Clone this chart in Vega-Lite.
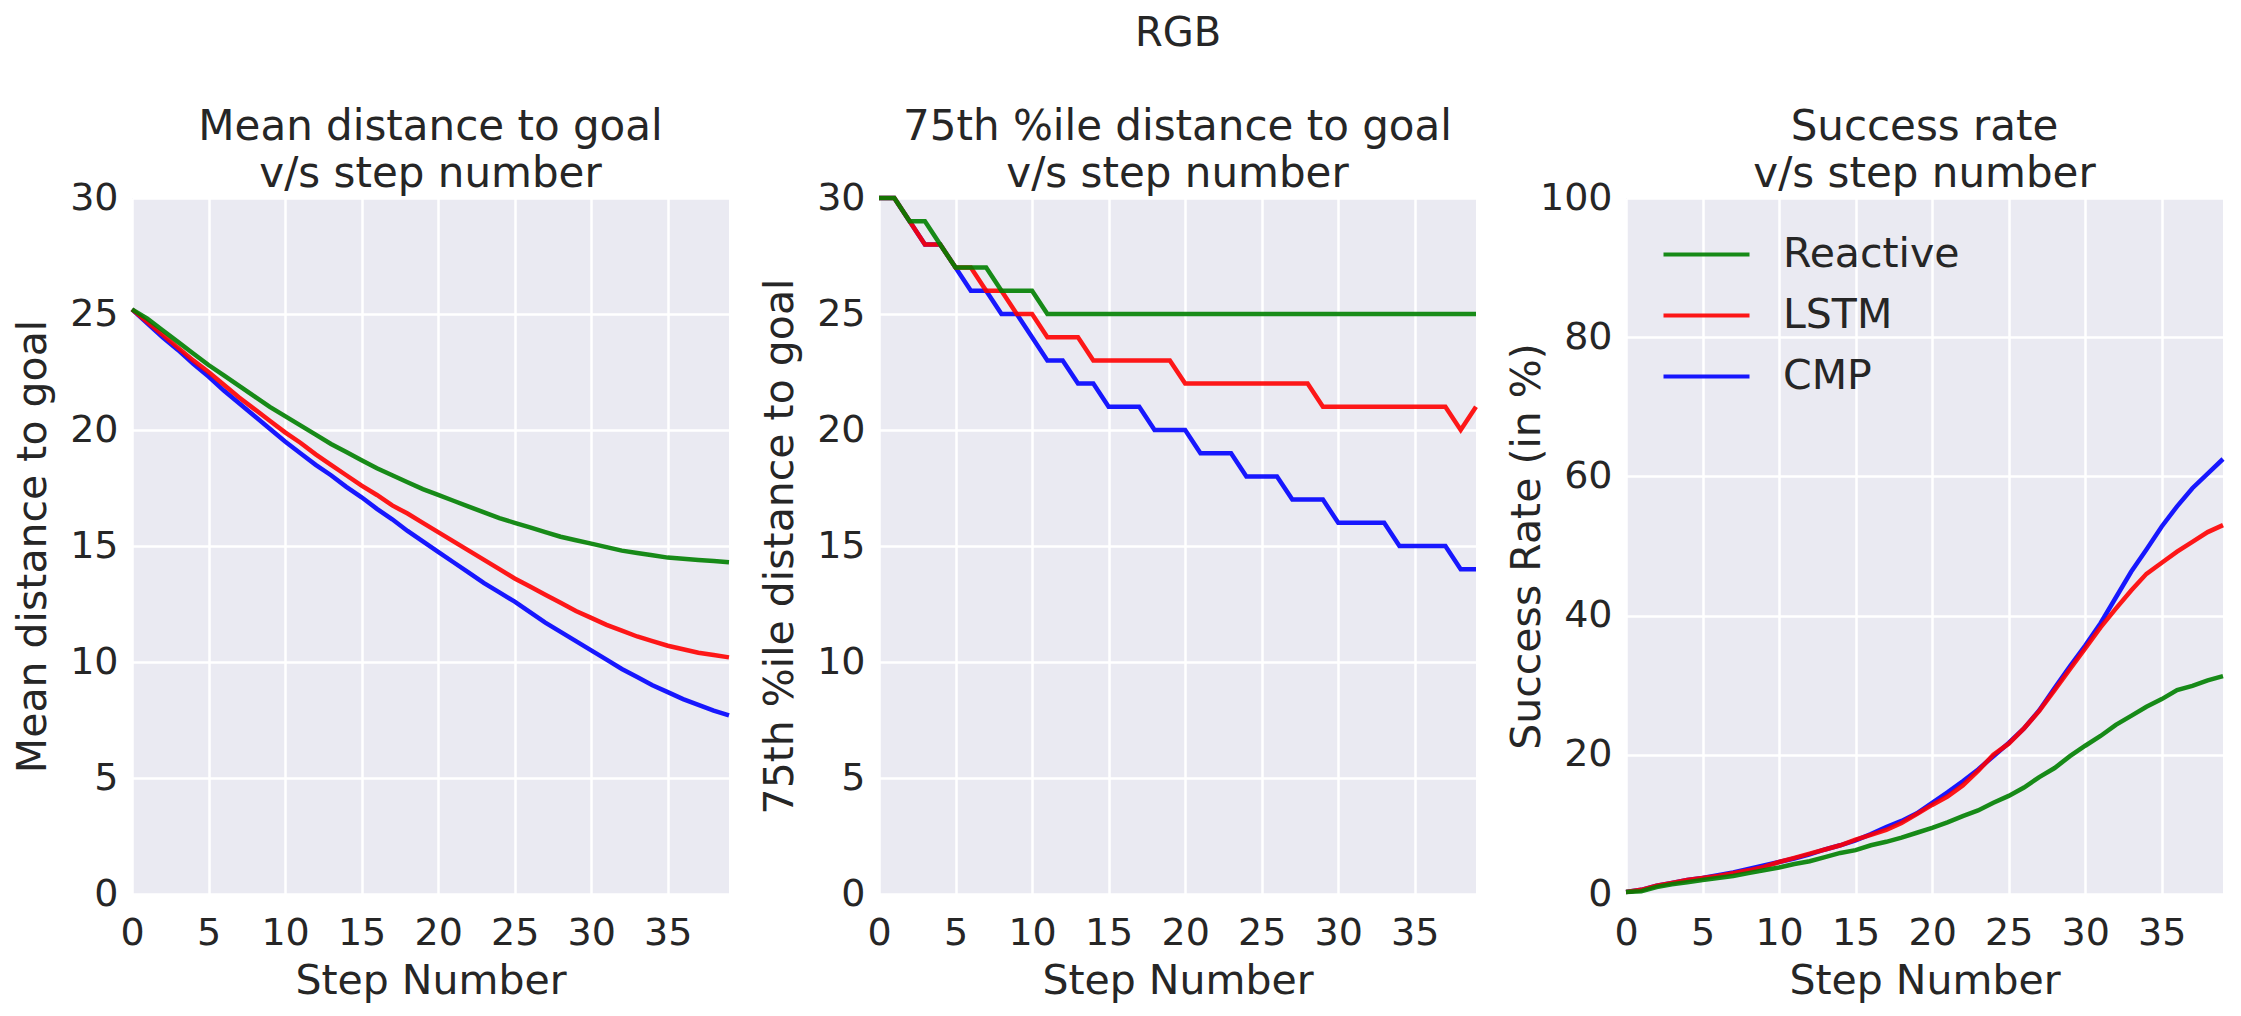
{
  "$schema": "https://vega.github.io/schema/vega-lite/v6.json",
  "padding": {"left": 12, "top": 14, "right": 12, "bottom": 10},
  "bounds": "flush",
  "spacing": 150,
  "background": "#ffffff",
  "title": {"text": "RGB", "fontSize": 40, "anchor": "middle", "frame": "group", "dx": 1046, "offset": 52},
  "data": {
    "values": [
      {"step": 0, "method": "CMP", "mean": 25.2, "p75": 30, "success": 0.3},
      {"step": 1, "method": "CMP", "mean": 24.6, "p75": 30, "success": 0.6},
      {"step": 2, "method": "CMP", "mean": 24.0, "p75": 29, "success": 1.2},
      {"step": 3, "method": "CMP", "mean": 23.45, "p75": 28, "success": 1.6},
      {"step": 4, "method": "CMP", "mean": 22.85, "p75": 28, "success": 2.0},
      {"step": 5, "method": "CMP", "mean": 22.3, "p75": 27, "success": 2.3},
      {"step": 6, "method": "CMP", "mean": 21.7, "p75": 26, "success": 2.7},
      {"step": 7, "method": "CMP", "mean": 21.15, "p75": 26, "success": 3.1},
      {"step": 8, "method": "CMP", "mean": 20.6, "p75": 25, "success": 3.6},
      {"step": 9, "method": "CMP", "mean": 20.05, "p75": 25, "success": 4.1},
      {"step": 10, "method": "CMP", "mean": 19.5, "p75": 24, "success": 4.6},
      {"step": 11, "method": "CMP", "mean": 19.0, "p75": 23, "success": 5.1},
      {"step": 12, "method": "CMP", "mean": 18.5, "p75": 23, "success": 5.7},
      {"step": 13, "method": "CMP", "mean": 18.05, "p75": 22, "success": 6.4},
      {"step": 14, "method": "CMP", "mean": 17.55, "p75": 22, "success": 7.0},
      {"step": 15, "method": "CMP", "mean": 17.1, "p75": 21, "success": 7.7},
      {"step": 16, "method": "CMP", "mean": 16.6, "p75": 21, "success": 8.6},
      {"step": 17, "method": "CMP", "mean": 16.15, "p75": 21, "success": 9.6},
      {"step": 18, "method": "CMP", "mean": 15.65, "p75": 20, "success": 10.5},
      {"step": 19, "method": "CMP", "mean": 15.2, "p75": 20, "success": 11.6},
      {"step": 20, "method": "CMP", "mean": 14.75, "p75": 20, "success": 13.1},
      {"step": 21, "method": "CMP", "mean": 14.3, "p75": 19, "success": 14.6},
      {"step": 22, "method": "CMP", "mean": 13.85, "p75": 19, "success": 16.2},
      {"step": 23, "method": "CMP", "mean": 13.4, "p75": 19, "success": 17.9},
      {"step": 24, "method": "CMP", "mean": 13.0, "p75": 18, "success": 19.8},
      {"step": 25, "method": "CMP", "mean": 12.6, "p75": 18, "success": 21.7},
      {"step": 26, "method": "CMP", "mean": 12.15, "p75": 18, "success": 23.8},
      {"step": 27, "method": "CMP", "mean": 11.7, "p75": 17, "success": 26.4},
      {"step": 28, "method": "CMP", "mean": 11.3, "p75": 17, "success": 29.6},
      {"step": 29, "method": "CMP", "mean": 10.9, "p75": 17, "success": 32.7},
      {"step": 30, "method": "CMP", "mean": 10.5, "p75": 16, "success": 35.7},
      {"step": 31, "method": "CMP", "mean": 10.1, "p75": 16, "success": 38.9},
      {"step": 32, "method": "CMP", "mean": 9.7, "p75": 16, "success": 42.6},
      {"step": 33, "method": "CMP", "mean": 9.35, "p75": 16, "success": 46.3},
      {"step": 34, "method": "CMP", "mean": 9.0, "p75": 15, "success": 49.5},
      {"step": 35, "method": "CMP", "mean": 8.7, "p75": 15, "success": 52.8},
      {"step": 36, "method": "CMP", "mean": 8.4, "p75": 15, "success": 55.7},
      {"step": 37, "method": "CMP", "mean": 8.15, "p75": 15, "success": 58.3},
      {"step": 38, "method": "CMP", "mean": 7.9, "p75": 14, "success": 60.4},
      {"step": 39, "method": "CMP", "mean": 7.7, "p75": 14, "success": 62.5},
      {"step": 0, "method": "LSTM", "mean": 25.2, "p75": 30, "success": 0.3},
      {"step": 1, "method": "LSTM", "mean": 24.65, "p75": 30, "success": 0.6},
      {"step": 2, "method": "LSTM", "mean": 24.1, "p75": 29, "success": 1.2},
      {"step": 3, "method": "LSTM", "mean": 23.55, "p75": 28, "success": 1.6},
      {"step": 4, "method": "LSTM", "mean": 23.0, "p75": 28, "success": 2.0},
      {"step": 5, "method": "LSTM", "mean": 22.5, "p75": 27, "success": 2.3},
      {"step": 6, "method": "LSTM", "mean": 21.95, "p75": 27, "success": 2.6},
      {"step": 7, "method": "LSTM", "mean": 21.4, "p75": 26, "success": 3.0},
      {"step": 8, "method": "LSTM", "mean": 20.9, "p75": 26, "success": 3.4},
      {"step": 9, "method": "LSTM", "mean": 20.4, "p75": 25, "success": 3.9},
      {"step": 10, "method": "LSTM", "mean": 19.9, "p75": 25, "success": 4.6},
      {"step": 11, "method": "LSTM", "mean": 19.45, "p75": 24, "success": 5.2},
      {"step": 12, "method": "LSTM", "mean": 18.95, "p75": 24, "success": 5.8},
      {"step": 13, "method": "LSTM", "mean": 18.5, "p75": 24, "success": 6.4},
      {"step": 14, "method": "LSTM", "mean": 18.05, "p75": 23, "success": 7.0},
      {"step": 15, "method": "LSTM", "mean": 17.6, "p75": 23, "success": 7.8},
      {"step": 16, "method": "LSTM", "mean": 17.2, "p75": 23, "success": 8.5},
      {"step": 17, "method": "LSTM", "mean": 16.75, "p75": 23, "success": 9.2},
      {"step": 18, "method": "LSTM", "mean": 16.4, "p75": 23, "success": 10.2},
      {"step": 19, "method": "LSTM", "mean": 16.0, "p75": 23, "success": 11.5},
      {"step": 20, "method": "LSTM", "mean": 15.6, "p75": 22, "success": 12.8},
      {"step": 21, "method": "LSTM", "mean": 15.2, "p75": 22, "success": 14.0},
      {"step": 22, "method": "LSTM", "mean": 14.8, "p75": 22, "success": 15.6},
      {"step": 23, "method": "LSTM", "mean": 14.4, "p75": 22, "success": 17.7},
      {"step": 24, "method": "LSTM", "mean": 14.0, "p75": 22, "success": 20.0},
      {"step": 25, "method": "LSTM", "mean": 13.6, "p75": 22, "success": 21.6},
      {"step": 26, "method": "LSTM", "mean": 13.25, "p75": 22, "success": 23.8},
      {"step": 27, "method": "LSTM", "mean": 12.9, "p75": 22, "success": 26.3},
      {"step": 28, "method": "LSTM", "mean": 12.55, "p75": 22, "success": 29.3},
      {"step": 29, "method": "LSTM", "mean": 12.2, "p75": 21, "success": 32.3},
      {"step": 30, "method": "LSTM", "mean": 11.9, "p75": 21, "success": 35.3},
      {"step": 31, "method": "LSTM", "mean": 11.6, "p75": 21, "success": 38.3},
      {"step": 32, "method": "LSTM", "mean": 11.35, "p75": 21, "success": 41.0},
      {"step": 33, "method": "LSTM", "mean": 11.1, "p75": 21, "success": 43.6},
      {"step": 34, "method": "LSTM", "mean": 10.9, "p75": 21, "success": 46.0},
      {"step": 35, "method": "LSTM", "mean": 10.7, "p75": 21, "success": 47.6},
      {"step": 36, "method": "LSTM", "mean": 10.55, "p75": 21, "success": 49.2},
      {"step": 37, "method": "LSTM", "mean": 10.4, "p75": 21, "success": 50.6},
      {"step": 38, "method": "LSTM", "mean": 10.3, "p75": 20, "success": 52.0},
      {"step": 39, "method": "LSTM", "mean": 10.2, "p75": 21, "success": 53.0},
      {"step": 0, "method": "Reactive", "mean": 25.2, "p75": 30, "success": 0.3},
      {"step": 1, "method": "Reactive", "mean": 24.8, "p75": 30, "success": 0.4},
      {"step": 2, "method": "Reactive", "mean": 24.3, "p75": 29, "success": 1.0},
      {"step": 3, "method": "Reactive", "mean": 23.8, "p75": 29, "success": 1.4},
      {"step": 4, "method": "Reactive", "mean": 23.3, "p75": 28, "success": 1.7},
      {"step": 5, "method": "Reactive", "mean": 22.8, "p75": 27, "success": 2.0},
      {"step": 6, "method": "Reactive", "mean": 22.35, "p75": 27, "success": 2.3},
      {"step": 7, "method": "Reactive", "mean": 21.9, "p75": 27, "success": 2.6},
      {"step": 8, "method": "Reactive", "mean": 21.45, "p75": 26, "success": 3.0},
      {"step": 9, "method": "Reactive", "mean": 21.0, "p75": 26, "success": 3.4},
      {"step": 10, "method": "Reactive", "mean": 20.6, "p75": 26, "success": 3.8},
      {"step": 11, "method": "Reactive", "mean": 20.2, "p75": 25, "success": 4.3},
      {"step": 12, "method": "Reactive", "mean": 19.8, "p75": 25, "success": 4.7},
      {"step": 13, "method": "Reactive", "mean": 19.4, "p75": 25, "success": 5.3},
      {"step": 14, "method": "Reactive", "mean": 19.05, "p75": 25, "success": 5.9},
      {"step": 15, "method": "Reactive", "mean": 18.7, "p75": 25, "success": 6.3},
      {"step": 16, "method": "Reactive", "mean": 18.35, "p75": 25, "success": 7.0},
      {"step": 17, "method": "Reactive", "mean": 18.05, "p75": 25, "success": 7.5},
      {"step": 18, "method": "Reactive", "mean": 17.75, "p75": 25, "success": 8.1},
      {"step": 19, "method": "Reactive", "mean": 17.45, "p75": 25, "success": 8.8},
      {"step": 20, "method": "Reactive", "mean": 17.2, "p75": 25, "success": 9.5},
      {"step": 21, "method": "Reactive", "mean": 16.95, "p75": 25, "success": 10.3},
      {"step": 22, "method": "Reactive", "mean": 16.7, "p75": 25, "success": 11.2},
      {"step": 23, "method": "Reactive", "mean": 16.45, "p75": 25, "success": 12.0},
      {"step": 24, "method": "Reactive", "mean": 16.2, "p75": 25, "success": 13.1},
      {"step": 25, "method": "Reactive", "mean": 16.0, "p75": 25, "success": 14.1},
      {"step": 26, "method": "Reactive", "mean": 15.8, "p75": 25, "success": 15.3},
      {"step": 27, "method": "Reactive", "mean": 15.6, "p75": 25, "success": 16.8},
      {"step": 28, "method": "Reactive", "mean": 15.4, "p75": 25, "success": 18.1},
      {"step": 29, "method": "Reactive", "mean": 15.25, "p75": 25, "success": 19.8},
      {"step": 30, "method": "Reactive", "mean": 15.1, "p75": 25, "success": 21.3},
      {"step": 31, "method": "Reactive", "mean": 14.95, "p75": 25, "success": 22.7},
      {"step": 32, "method": "Reactive", "mean": 14.8, "p75": 25, "success": 24.3},
      {"step": 33, "method": "Reactive", "mean": 14.7, "p75": 25, "success": 25.6},
      {"step": 34, "method": "Reactive", "mean": 14.6, "p75": 25, "success": 26.9},
      {"step": 35, "method": "Reactive", "mean": 14.5, "p75": 25, "success": 28.0},
      {"step": 36, "method": "Reactive", "mean": 14.45, "p75": 25, "success": 29.3},
      {"step": 37, "method": "Reactive", "mean": 14.4, "p75": 25, "success": 29.9},
      {"step": 38, "method": "Reactive", "mean": 14.35, "p75": 25, "success": 30.7},
      {"step": 39, "method": "Reactive", "mean": 14.3, "p75": 25, "success": 31.3}
    ]
  },
  "resolve": {"legend": {"color": "independent"}},
  "hconcat": [
    {
      "width": 597,
      "height": 696,
      "title": {"text": ["Mean distance to goal", "v/s step number"]},
      "mark": {"type": "line", "strokeWidth": 4.5, "opacity": 0.9},
      "encoding": {
        "x": {"field": "step", "type": "quantitative", "scale": {"domain": [0, 39], "nice": false},
              "axis": {"values": [0, 5, 10, 15, 20, 25, 30, 35], "title": "Step Number"}},
        "y": {"field": "mean", "type": "quantitative", "scale": {"domain": [0, 30], "nice": false},
              "axis": {"values": [0, 5, 10, 15, 20, 25, 30], "title": "Mean distance to goal"}},
        "color": {"field": "method", "type": "nominal",
                  "scale": {"domain": ["Reactive", "LSTM", "CMP"], "range": ["#008000", "#ff0000", "#0000ff"]},
                  "legend": null}
      }
    },
    {
      "width": 597,
      "height": 696,
      "title": {"text": ["75th %ile distance to goal", "v/s step number"]},
      "mark": {"type": "line", "strokeWidth": 4.5, "opacity": 0.9},
      "encoding": {
        "x": {"field": "step", "type": "quantitative", "scale": {"domain": [0, 39], "nice": false},
              "axis": {"values": [0, 5, 10, 15, 20, 25, 30, 35], "title": "Step Number"}},
        "y": {"field": "p75", "type": "quantitative", "scale": {"domain": [0, 30], "nice": false},
              "axis": {"values": [0, 5, 10, 15, 20, 25, 30], "title": "75th %ile distance to goal"}},
        "color": {"field": "method", "type": "nominal",
                  "scale": {"domain": ["Reactive", "LSTM", "CMP"], "range": ["#008000", "#ff0000", "#0000ff"]},
                  "legend": null}
      }
    },
    {
      "width": 597,
      "height": 696,
      "title": {"text": ["Success rate", "v/s step number"]},
      "mark": {"type": "line", "strokeWidth": 4.5, "opacity": 0.9},
      "encoding": {
        "x": {"field": "step", "type": "quantitative", "scale": {"domain": [0, 39], "nice": false},
              "axis": {"values": [0, 5, 10, 15, 20, 25, 30, 35], "title": "Step Number"}},
        "y": {"field": "success", "type": "quantitative", "scale": {"domain": [0, 100], "nice": false},
              "axis": {"values": [0, 20, 40, 60, 80, 100], "title": "Success Rate (in %)"}},
        "color": {"field": "method", "type": "nominal",
                  "scale": {"domain": ["Reactive", "LSTM", "CMP"], "range": ["#008000", "#ff0000", "#0000ff"]},
                  "legend": {"title": null, "orient": "none", "legendX": 57, "legendY": 33,
                             "symbolType": "M-2,0H2", "symbolSize": 1849, "symbolStrokeWidth": 4,
                             "symbolOpacity": 0.9, "labelFontSize": 41, "labelColor": "#262626",
                             "labelOffset": 53, "labelLimit": 0, "rowPadding": 17, "padding": 0}}
      }
    }
  ],
  "config": {
    "font": "DejaVu Sans",
    "view": {"fill": "#EAEAF2", "stroke": null},
    "axis": {"grid": true, "gridColor": "#ffffff", "gridWidth": 2.5, "domain": false, "ticks": false,
             "labelFlush": false, "labelFontSize": 38, "labelColor": "#262626", "labelPadding": 20,
             "titleFontSize": 41, "titleFontWeight": "normal", "titleColor": "#262626", "titlePadding": 9},
    "axisY": {"labelPadding": 14, "titleX": -99, "titleBaseline": "middle"},
    "title": {"fontSize": 42, "fontWeight": "normal", "color": "#262626", "lineHeight": 47, "offset": -17}
  }
}
